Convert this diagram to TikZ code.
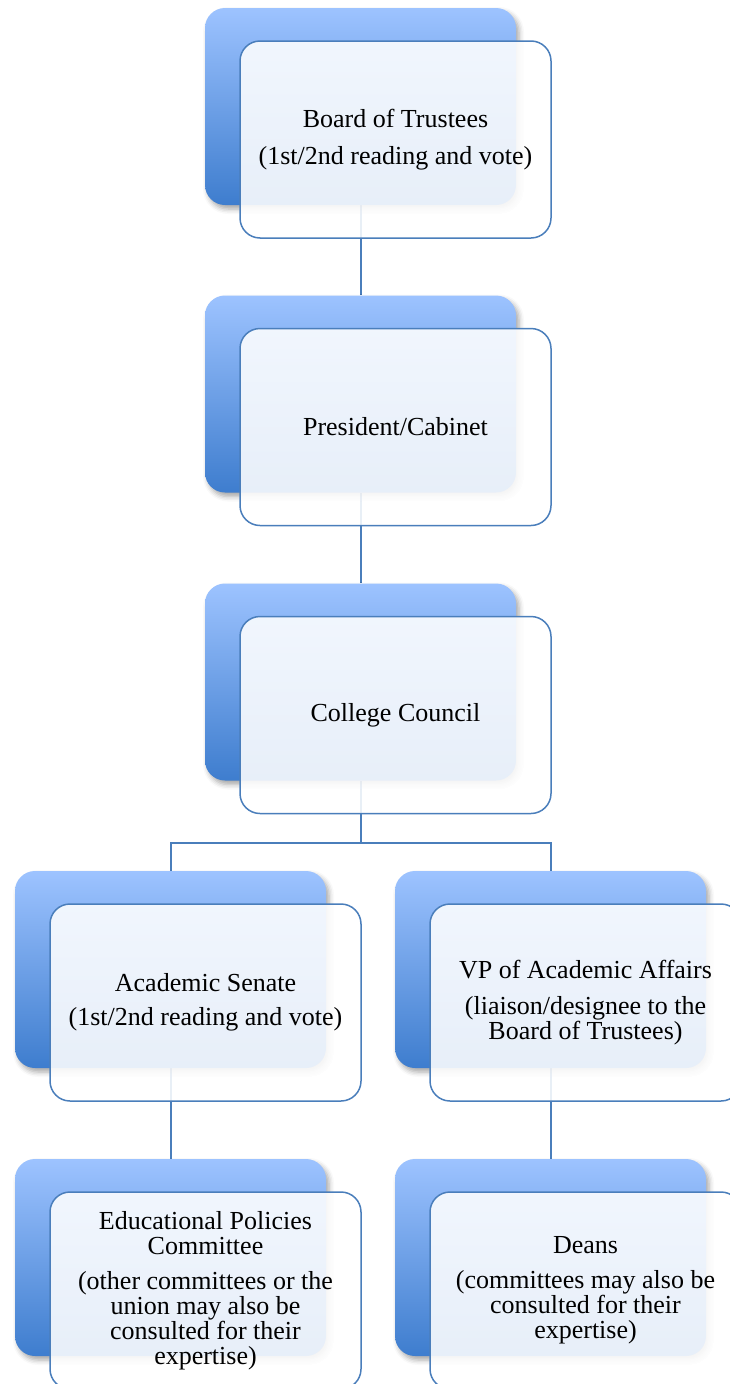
\documentclass[tikz,border=0pt]{standalone}
\usepackage{fontspec}
\setmainfont{Liberation Serif}
\usetikzlibrary{shadows.blur, backgrounds}
\definecolor{boxtop}{HTML}{9DC3FF}
\definecolor{boxbottom}{HTML}{3E7DCE}
\definecolor{boxline}{HTML}{4A7EBB}

\begin{document}
\begin{tikzpicture}[x=1pt, y=-1pt]

\tikzset{back/.style = {shape=rectangle, rounded corners=20pt, minimum width=311pt, minimum height=197pt, inner sep=0pt, top color=boxtop, bottom color=boxbottom, blur shadow={shadow xshift=3pt, shadow yshift=-4pt, shadow blur radius=5pt, shadow opacity=35}}}
\tikzset{front/.style = {shape=rectangle, rounded corners=20pt, draw=boxline, line width=1.5pt, fill=white, fill opacity=0.88, text opacity=1, minimum width=311pt, minimum height=197pt, inner sep=0pt, align=center, font=\fontsize{26}{25}\selectfont}}
\tikzset{edge/.style = {draw=boxline, line width=2pt}}

\useasboundingbox (0,0) rectangle (730,1384);

%back boxes
\node[back] (1) at (360.5,106.5) {};
\node[back] (2) at (360.5,394) {};
\node[back] (3) at (360.5,682) {};
\node[back] (4) at (170.5,969.5) {};
\node[back] (5) at (550.5,969.5) {};
\node[back] (6) at (170.5,1257.5) {};
\node[back] (7) at (550.5,1257.5) {};
%text boxes
\node[front] (t1) at (395.5,139.5) {Board of Trustees\\[12pt](1st/2nd reading and vote)};
\node[front] (t2) at (395.5,427) {President/Cabinet};
\node[front] (t3) at (395.5,715) {College Council};
\node[front] (t4) at (205.5,1002.5) {Academic Senate\\[9pt](1st/2nd reading and vote)};
\node[front] (t5) at (585.5,1002.5) {VP of Academic Affairs\\[11pt](liaison/designee to the\\Board of Trustees)};
\node[front] (t6) at (205.5,1290.5) {Educational Policies\\Committee\\[10pt](other committees or the\\union may also be\\consulted for their\\expertise)};
\node[front] (t7) at (585.5,1290.5) {Deans\\[10pt](committees may also be\\consulted for their\\expertise)};
%edges
\begin{scope}[on background layer]
\draw[edge] (1) -- (2);
\draw[edge] (2) -- (3);
\draw[edge] (3.south) -- ++(0,62) -| (4.north);
\draw[edge] (3.south) -- ++(0,62) -| (5.north);
\draw[edge] (4) -- (6);
\draw[edge] (5) -- (7);
\end{scope}

\end{tikzpicture}
\end{document}
